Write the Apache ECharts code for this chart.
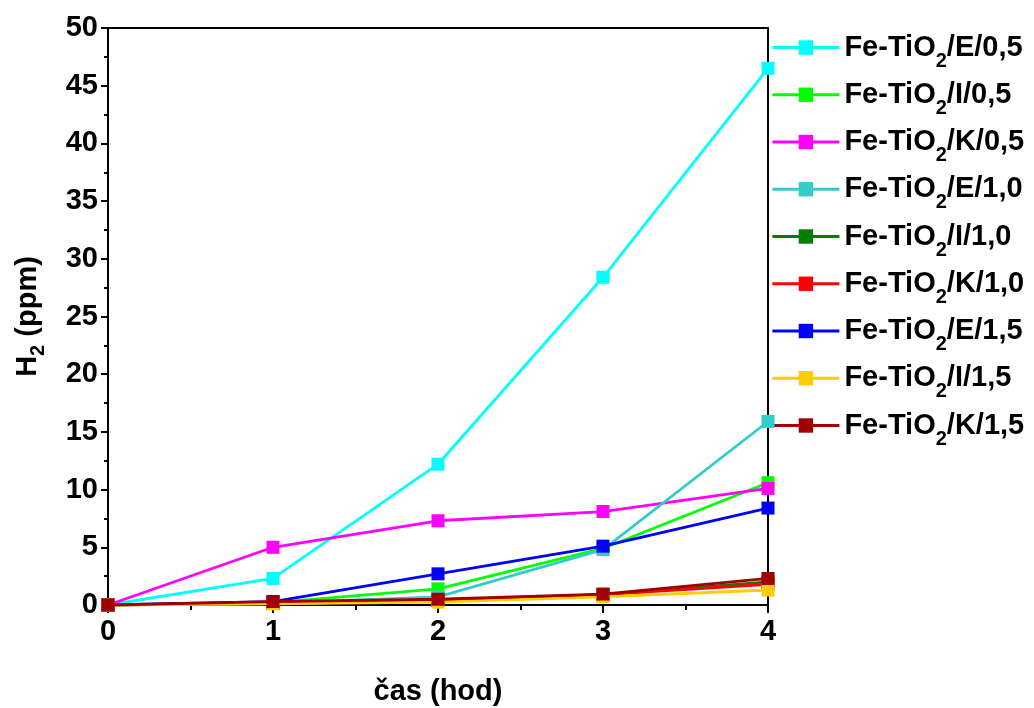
<!DOCTYPE html>
<html>
<head>
<meta charset="utf-8">
<script src="https://cdn.jsdelivr.net/npm/echarts@6/dist/echarts.min.js"></script>
<style>
  html, body { margin: 0; padding: 0; background: #fff; }
  #chart { width: 1034px; height: 708px; }
</style>
</head>
<body>
<div id="chart"></div>
<script>
// Time points (hours)
const hours = [0, 1, 2, 3, 4];

// H2 evolution (ppm) for each catalyst sample
const fe_E_05 = [0, 2.3, 12.2, 28.4, 46.5];
const fe_I_05 = [0, 0.2, 1.4, 4.9, 10.6];
const fe_K_05 = [0, 5.0, 7.3, 8.1, 10.1];
const fe_E_10 = [0, 0.15, 0.7, 4.8, 15.9];
const fe_I_10 = [0, 0.15, 0.4, 0.9, 2.0];
const fe_K_10 = [0, 0.15, 0.4, 0.9, 1.8];
const fe_E_15 = [0, 0.3, 2.7, 5.1, 8.4];
const fe_I_15 = [0, 0.1, 0.25, 0.7, 1.3];
const fe_K_15 = [0, 0.3, 0.5, 0.95, 2.3];

const seriesNames = [
  'Fe-TiO2/E/0,5', 'Fe-TiO2/I/0,5', 'Fe-TiO2/K/0,5',
  'Fe-TiO2/E/1,0', 'Fe-TiO2/I/1,0', 'Fe-TiO2/K/1,0',
  'Fe-TiO2/E/1,5', 'Fe-TiO2/I/1,5', 'Fe-TiO2/K/1,5'
];
const seriesValues = [fe_E_05, fe_I_05, fe_K_05, fe_E_10, fe_I_10, fe_K_10, fe_E_15, fe_I_15, fe_K_15];
const seriesColors = ['#00FFFF', '#00FF00', '#FF00FF', '#33CCCC', '#008000', '#FF0000', '#0000FF', '#FFCC00', '#A00000'];

const xTicks = [0, 1, 2, 3, 4];
const yTicks = [0, 5, 10, 15, 20, 25, 30, 35, 40, 45, 50];

const font = 'Arial, "Liberation Sans", sans-serif';
const bigSize = 29;
const rowHeight = 46;
const subStyle = {
  fontFamily: font, fontWeight: 'bold', fontSize: 20, color: '#000',
  lineHeight: rowHeight, padding: [27, 0, 0, 0]
};

const series = seriesNames.map((name, i) => ({
  name: name,
  type: 'line',
  data: hours.map((h, j) => [h, seriesValues[i][j]]),
  symbol: 'rect',
  symbolSize: 13,
  color: seriesColors[i],
  lineStyle: { width: 2.8, color: seriesColors[i] },
  itemStyle: { color: seriesColors[i] },
  emphasis: { disabled: true },
  animation: false,
  z: 2 + i
}));

const chart = echarts.init(document.getElementById('chart'), null, { renderer: 'canvas' });
chart.setOption({
  backgroundColor: '#fff',
  animation: false,
  grid: {
    left: 108, right: 266, top: 28, bottom: 103,
    containLabel: false,
    outerBoundsMode: 'none',
    show: true, borderColor: '#000', borderWidth: 2, backgroundColor: 'transparent'
  },
  legend: {
    orient: 'vertical',
    left: 771,
    top: 24,
    padding: 0,
    itemWidth: 67,
    itemHeight: 18,
    itemGap: 0.25,
    lineStyle: { width: 2.8 },
    data: seriesNames,
    formatter: n => n.replace('TiO2', 'TiO{sub|2}'),
    textStyle: {
      fontFamily: font, fontWeight: 'bold', fontSize: bigSize, color: '#000',
      lineHeight: rowHeight,
      rich: { sub: subStyle }
    }
  },
  xAxis: {
    type: 'value',
    min: xTicks[0], max: xTicks[xTicks.length - 1], interval: 1,
    name: 'čas (hod)',
    nameLocation: 'middle',
    nameGap: 72,
    nameTextStyle: { fontFamily: font, fontWeight: 'bold', fontSize: bigSize, color: '#000' },
    axisLine: { show: true, onZero: false, lineStyle: { color: '#000', width: 2 } },
    axisTick: { show: true, length: 8, lineStyle: { color: '#000', width: 2 } },
    minorTick: { show: true, splitNumber: 2, length: 5, lineStyle: { color: '#000', width: 2 } },
    axisLabel: { fontFamily: font, fontWeight: 'bold', fontSize: bigSize, color: '#000', margin: 12 },
    splitLine: { show: false }
  },
  yAxis: {
    type: 'value',
    min: yTicks[0], max: yTicks[yTicks.length - 1], interval: 5,
    name: 'H{sub|2} (ppm)',
    nameLocation: 'middle',
    nameGap: 60,
    nameRotate: 90,
    nameTextStyle: {
      fontFamily: font, fontWeight: 'bold', fontSize: bigSize, color: '#000',
      rich: { sub: { fontFamily: font, fontWeight: 'bold', fontSize: 20, color: '#000', padding: [20, 0, 0, 0] } }
    },
    axisLine: { show: true, lineStyle: { color: '#000', width: 2 } },
    axisTick: { show: true, length: 7, lineStyle: { color: '#000', width: 2 } },
    minorTick: { show: true, splitNumber: 2, length: 4, lineStyle: { color: '#000', width: 2 } },
    axisLabel: { fontFamily: font, fontWeight: 'bold', fontSize: bigSize, color: '#000', margin: 10 },
    splitLine: { show: false }
  },
  series: series
});
</script>
</body>
</html>
